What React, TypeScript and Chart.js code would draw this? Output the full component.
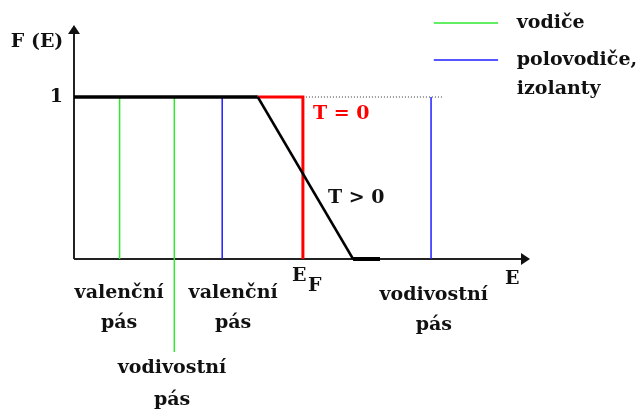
import React, { useEffect, useRef } from "react";
import { Chart, registerables } from "chart.js";

Chart.register(...registerables);

// Energy positions (arbitrary units along E axis)
const greenLevels = [1.0, 2.2];
const greenBottoms = [0, -0.574];
const blueLevels = [3.25, 7.83];
const fermiLevel = 5.02;
const slopeStart = 4.03;
const slopeEnd = 6.12;
const tailEnd = 6.71;
const dottedEnd = 8.1;
const axisEndX = 10.0;
const axisEndY = 1.444;

// F(E) values
const tPositiveFlat = [
  { x: 0, y: 1 },
  { x: slopeStart, y: 1 },
];
const tPositiveSlope = [
  { x: slopeStart, y: 1 },
  { x: slopeEnd, y: 0 },
];
const tPositiveTail = [
  { x: slopeEnd, y: 0 },
  { x: tailEnd, y: 0 },
];
const tZero = [
  { x: slopeStart, y: 1 },
  { x: fermiLevel, y: 1 },
  { x: fermiLevel, y: 0 },
];

// legend
const legendLabels = ["vodiče", "polovodiče,", "izolanty"];
const legendY = [1.457, 1.228, 1.049];
const legendLineX = [7.89, 9.3];

type Ann = { text: string; x: number; y: number; align: CanvasTextAlign; color?: string; size?: number };

const annotations: Ann[] = [
  { text: "F (E)", x: -0.81, y: 1.34, align: "center" },
  { text: "1", x: -0.24, y: 1.0, align: "right" },
  { text: "T = 0", x: 5.24, y: 0.895, align: "left", color: "#ff0000" },
  { text: "T > 0", x: 5.57, y: 0.377, align: "left" },
  { text: "E", x: 4.78, y: -0.105, align: "left" },
  { text: "F", x: 5.13, y: -0.167, align: "left" },
  { text: "E", x: 9.45, y: -0.123, align: "left" },
  { text: "valenční", x: 0.99, y: -0.21, align: "center" },
  { text: "pás", x: 0.99, y: -0.395, align: "center" },
  { text: "valenční", x: 3.49, y: -0.21, align: "center" },
  { text: "pás", x: 3.49, y: -0.395, align: "center" },
  { text: "vodivostní", x: 2.15, y: -0.673, align: "center" },
  { text: "pás", x: 2.15, y: -0.87, align: "center" },
  { text: "vodivostní", x: 7.89, y: -0.222, align: "center" },
  { text: "pás", x: 7.89, y: -0.407, align: "center" },
  { text: legendLabels[0], x: 9.71, y: legendY[0], align: "left" },
  { text: legendLabels[1], x: 9.71, y: legendY[1], align: "left" },
  { text: legendLabels[2], x: 9.71, y: legendY[2], align: "left" },
];

const GREEN = "#2ee82e";
const BLUE = "#1e1eff";
const FONT = '"DejaVu Serif", serif';

const textPlugin = {
  id: "texts",
  afterDatasetsDraw(chart: any) {
    const { ctx, scales } = chart;
    const xs = scales.x;
    const ys = scales.y;
    ctx.save();
    // arrowheads
    ctx.fillStyle = "#111";
    const ox = xs.getPixelForValue(0);
    const tipY = ys.getPixelForValue(axisEndY);
    ctx.beginPath();
    ctx.moveTo(ox, tipY);
    ctx.lineTo(ox - 6, tipY + 9);
    ctx.lineTo(ox + 6, tipY + 9);
    ctx.closePath();
    ctx.fill();
    const oy = ys.getPixelForValue(0);
    const tipX = xs.getPixelForValue(axisEndX);
    ctx.beginPath();
    ctx.moveTo(tipX, oy);
    ctx.lineTo(tipX - 9, oy - 6);
    ctx.lineTo(tipX - 9, oy + 6);
    ctx.closePath();
    ctx.fill();
    // texts
    ctx.textBaseline = "middle";
    for (const a of annotations) {
      ctx.font = `bold ${a.size ?? 19}px ${FONT}`;
      ctx.fillStyle = a.color ?? "#111";
      ctx.textAlign = a.align;
      ctx.fillText(a.text, xs.getPixelForValue(a.x), ys.getPixelForValue(a.y));
    }
    ctx.restore();
  },
};

function line(data: { x: number; y: number }[], color: string, width: number, order: number, dash?: number[]) {
  return {
    data,
    showLine: true,
    borderColor: color,
    backgroundColor: color,
    borderWidth: width,
    pointRadius: 0,
    borderDash: dash ?? [],
    fill: false,
    tension: 0,
    order,
    borderCapStyle: "butt",
    borderJoinStyle: "miter",
  };
}

export default function App() {
  const ref = useRef<HTMLCanvasElement | null>(null);
  useEffect(() => {
    document.body.style.margin = "0";
    const datasets: any[] = [
      line([{ x: 0, y: 0 }, { x: axisEndX - 0.1, y: 0 }], "#222", 2, 10),
      line([{ x: 0, y: 0 }, { x: 0, y: axisEndY - 0.03 }], "#222", 2, 10),
      line([{ x: fermiLevel, y: 1 }, { x: dottedEnd, y: 1 }], "#333", 1, 9, [1, 2]),
      ...greenLevels.map((g, i) => line([{ x: g, y: greenBottoms[i] }, { x: g, y: 1 }], GREEN, 1.5, 5)),
      ...blueLevels.map((b) => line([{ x: b, y: 0 }, { x: b, y: 1 }], BLUE, 1.5, 5)),
      line(tZero, "#ff0000", 3, 2),
      line(tPositiveFlat, "#000", 3.5, 1),
      line(tPositiveSlope, "#000", 2.5, 1),
      line(tPositiveTail, "#000", 4, 1),
      line([{ x: legendLineX[0], y: legendY[0] }, { x: legendLineX[1], y: legendY[0] }], GREEN, 1.5, 5),
      line([{ x: legendLineX[0], y: legendY[1] }, { x: legendLineX[1], y: legendY[1] }], BLUE, 1.5, 5),
    ];
    const chart = new Chart(ref.current!, {
      type: "scatter",
      data: { datasets },
      options: {
        animation: false,
        responsive: false,
        layout: { padding: 0 },
        plugins: { legend: { display: false }, tooltip: { enabled: false } },
        scales: {
          x: { type: "linear", display: false, min: -74 / 45.6, max: (640 - 74) / 45.6 },
          y: { type: "linear", display: false, min: -(412 - 259) / 162, max: 259 / 162 },
        },
      },
      plugins: [textPlugin],
    } as any);
    return () => chart.destroy();
  }, []);
  return (
    <div style={{ width: 640, height: 412, background: "#fff" }}>
      <canvas ref={ref} width={640} height={412} />
    </div>
  );
}
